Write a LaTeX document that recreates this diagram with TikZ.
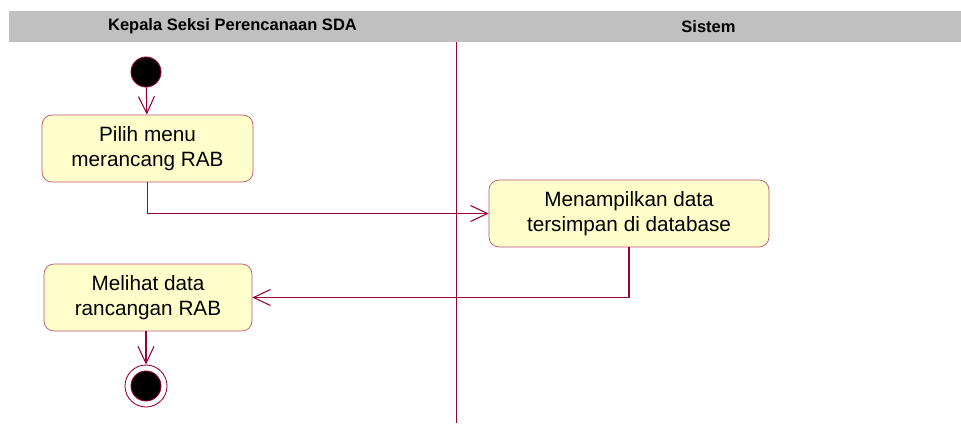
\documentclass[tikz,border=0pt]{standalone}
\usepackage{fontspec}
\setmainfont{Liberation Sans}
\usetikzlibrary{arrows.meta,positioning}
\definecolor{laneline}{HTML}{990033}
\definecolor{boxline}{HTML}{C0506E}
\definecolor{boxfill}{HTML}{FFFFCC}
\definecolor{header}{HTML}{C0C0C0}

\begin{document}
\begin{tikzpicture}[
  x=0.02cm, y=-0.02cm,
  act/.style={draw=boxline, fill=boxfill, rounded corners=0.2cm, minimum height=1.34cm, align=center, inner sep=0pt, font=\fontsize{11.8}{14.3}\selectfont},
  lanetitle/.style={font=\bfseries\fontsize{9.4}{11}\selectfont},
  arr/.style={-{Straight Barb[length=0.34cm, width=0.32cm]}, draw=laneline, line width=0.6pt},
  dot/.style={circle, fill=black, draw=laneline, line width=0.5pt, inner sep=0pt, minimum size=0.6cm}
]
  \useasboundingbox (0,0) rectangle (961,425);
  % swimlanes
  \fill[header] (9,11) rectangle (961,42);
  \node[lanetitle] (kasi) at (232.5,26.5) {Kepala Seksi Perencanaan SDA};
  \node[lanetitle] (sis) at (708.5,26.5) {Sistem};
  \draw[laneline, line width=0.5pt] (456,42) -- (456,423);

  % activities
  \node[dot] (start) at (146,72) {};
  \node[act, minimum width=4.22cm] (pilih) at (147.5,148.5) {Pilih menu\\merancang RAB};
  \node[act, minimum width=5.6cm] (tampil) at (629,213.5) {Menampilkan data\\tersimpan di database};
  \node[act, minimum width=4.16cm] (melihat) at (148,297.5) {Melihat data\\rancangan RAB};
  \node[circle, draw=laneline, fill=white, line width=0.5pt, inner sep=0pt, minimum size=0.84cm] (stop) at (146,386) {};
  \node[dot] (stopdot) at (stop) {};

  \draw[arr] (start) -- (pilih);
  \draw[arr] (pilih.south) |- (tampil.west);
  \draw[arr] (tampil.south) |- (melihat.east);
  \draw[arr] (melihat.south -| stop) -- (stop.north);
\end{tikzpicture}
\end{document}
